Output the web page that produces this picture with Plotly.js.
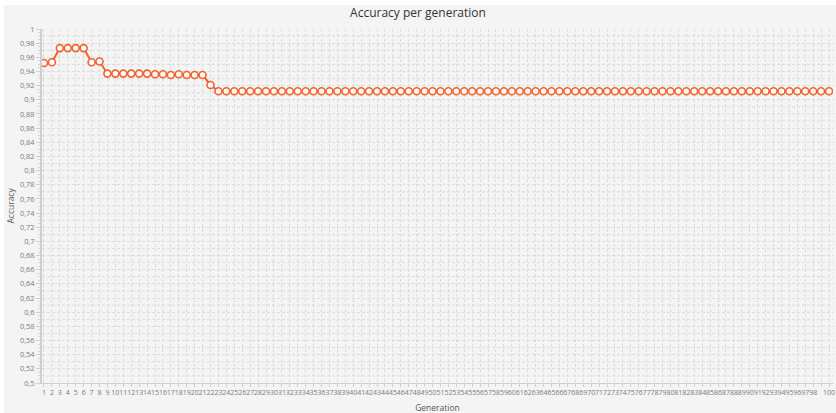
<!DOCTYPE html>
<html>
<head>
<meta charset="utf-8">
<script src="https://cdn.plot.ly/plotly-3.0.1.min.js"></script>
<style>
html,body{margin:0;padding:0;background:#ffffff;}
#chart{width:836px;height:413px;}
</style>
</head>
<body>
<div id="chart"></div>
<script>
const generations = [1,2,3,4,5,6,7,8,9,10,11,12,13,14,15,16,17,18,19,20,
21,22,23,24,25,26,27,28,29,30,31,32,33,34,35,36,37,38,39,40,
41,42,43,44,45,46,47,48,49,50,51,52,53,54,55,56,57,58,59,60,
61,62,63,64,65,66,67,68,69,70,71,72,73,74,75,76,77,78,79,80,
81,82,83,84,85,86,87,88,89,90,91,92,93,94,95,96,97,98,99,100];

const accuracy = [0.952,0.953,0.973,0.973,0.973,0.973,0.953,0.954,0.937,0.937,
0.937,0.937,0.937,0.937,0.936,0.936,0.935,0.936,0.935,0.935,
0.935,0.921,0.912,0.912,0.912,0.912,0.912,0.912,0.912,0.912,
0.912,0.912,0.912,0.912,0.912,0.912,0.912,0.912,0.912,0.912,
0.912,0.912,0.912,0.912,0.912,0.912,0.912,0.912,0.912,0.912,
0.912,0.912,0.912,0.912,0.912,0.912,0.912,0.912,0.912,0.912,
0.912,0.912,0.912,0.912,0.912,0.912,0.912,0.912,0.912,0.912,
0.912,0.912,0.912,0.912,0.912,0.912,0.912,0.912,0.912,0.912,
0.912,0.912,0.912,0.912,0.912,0.912,0.912,0.912,0.912,0.912,
0.912,0.912,0.912,0.912,0.912,0.912,0.912,0.912,0.912,0.912];

const xTickText = generations.map(g => g === 99 ? '' : String(g));

const yTickVals = [0.5,0.52,0.54,0.56,0.58,0.6,0.62,0.64,0.66,0.68,0.7,0.72,0.74,0.76,0.78,0.8,0.82,0.84,0.86,0.88,0.9,0.92,0.94,0.96,0.98,1];

const FONT = 'Open Sans, Noto Sans, sans-serif';
const GRID = '#dcdcdc';
const DASH = '3px,2px';

const trace = {
  x: generations,
  y: accuracy,
  type: 'scatter',
  mode: 'lines+markers',
  line: {color: '#f3622d', width: 2},
  marker: {symbol: 'circle', size: 7, color: '#ffffff', line: {color: '#f3622d', width: 1.6}},
  hoverinfo: 'x+y'
};

const layout = {
  width: 836,
  height: 413,
  separators: ', ',
  paper_bgcolor: '#ffffff',
  plot_bgcolor: '#f4f4f4',
  margin: {l: 42, r: 3, t: 29, b: 30, pad: 0},
  showlegend: false,
  title: {text: 'Accuracy per generation', font: {family: FONT, size: 12, color: '#333333'}, x: 0.5, xanchor: 'center', y: 0.968, yanchor: 'middle'},
  font: {family: FONT, color: '#7a7a7a'},
  xaxis: {
    range: [0.75, 100.5],
    tickmode: 'array',
    tickvals: generations,
    ticktext: xTickText,
    tickangle: 0,
    tickfont: {family: FONT, size: 7, color: '#7a7a7a'},
    ticks: 'outside', ticklen: 3, tickcolor: '#cfcfcf', tickwidth: 1,
    showgrid: true, gridcolor: GRID, griddash: DASH, gridwidth: 1,
    showline: true, linecolor: '#cfcfcf', linewidth: 1,
    zeroline: false,
    title: {text: 'Generation', font: {family: FONT, size: 8.5, color: '#555555'}, standoff: 8},
    fixedrange: true
  },
  yaxis: {
    range: [0.5, 1],
    tickmode: 'array',
    tickvals: yTickVals,
    tickfont: {family: FONT, size: 7.4, color: '#7a7a7a'},
    ticks: 'outside', ticklen: 4, tickcolor: '#cfcfcf', tickwidth: 1,
    minor: {dtick: 0.005, ticks: 'outside', ticklen: 2, tickcolor: '#d8d8d8', showgrid: false},
    showgrid: true, gridcolor: GRID, griddash: DASH, gridwidth: 1,
    showline: true, linecolor: '#cfcfcf', linewidth: 2,
    zeroline: false,
    fixedrange: true
  },
  annotations: [
    {text: 'Accuracy', xref: 'paper', yref: 'paper', x: -0.041, y: 0.5, xanchor: 'center', yanchor: 'middle',
     textangle: -90, showarrow: false, font: {family: FONT, size: 8.5, color: '#555555'}}
  ],
  shapes: [
    {type: 'rect', xref: 'paper', yref: 'paper', x0: -0.048, x1: 1.1, y0: -0.2, y1: 1.0678,
     fillcolor: '#f4f4f4', line: {width: 0}, layer: 'below'}
  ]
};

// extra horizontal grid lines at every 0.01 between the labelled ones
const halfLines = [0.51,0.53,0.55,0.57,0.59,0.61,0.63,0.65,0.67,0.69,0.71,0.73,0.75,0.77,0.79,0.81,0.83,0.85,0.87,0.89,0.91,0.93,0.95,0.97,0.99];
halfLines.forEach(v => layout.shapes.push({
  type: 'line', xref: 'paper', yref: 'y', x0: 0, x1: 1, y0: v, y1: v,
  line: {color: GRID, width: 1, dash: DASH}, layer: 'below'
}));

Plotly.newPlot('chart', [trace], layout, {displayModeBar: false, staticPlot: true});
</script>
</body>
</html>
